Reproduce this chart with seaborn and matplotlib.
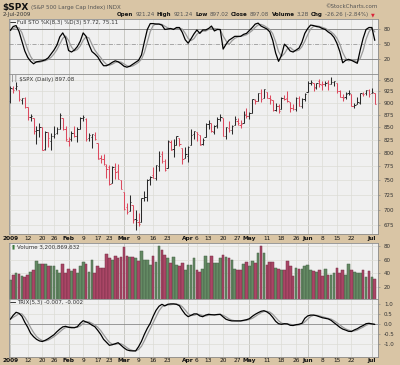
import numpy as np
import pandas as pd
import seaborn as sns
import matplotlib.pyplot as plt
from matplotlib.ticker import NullLocator, FixedLocator

# ---- data ----
holidays = ['2009-01-19', '2009-02-16', '2009-04-10', '2009-05-25']

opens = [
    902.99, 929.17, 931.17, 927.45, 905.73, 909.91, 890.40, 869.79, 867.28, 841.99,
    844.45, 849.64, 806.77, 839.74, 822.16, 832.50, 837.30, 845.73, 868.89, 845.69,
    823.09, 825.69, 837.77, 831.75, 846.09, 868.24, 866.87, 827.41, 829.91, 833.95,
    818.61, 791.06, 787.91, 775.87, 773.25, 744.69, 770.64, 765.76, 749.93,
    729.57, 704.44, 698.60, 708.27, 684.04, 680.76, 679.28, 719.59, 720.89, 751.97,
    758.84, 753.88, 776.01, 797.92, 784.58, 772.31, 820.60, 806.81, 814.06, 828.68,
    809.07, 790.88,
    793.59, 814.53, 835.13, 839.75, 834.12, 816.76, 829.29, 855.33, 856.88, 839.44,
    854.54, 865.18, 868.27, 831.25, 847.26, 844.62, 853.91, 862.82, 854.48, 856.85,
    876.59,
    872.74, 879.21, 906.10, 903.95, 919.58, 909.03, 922.99, 910.52, 905.40, 884.24,
    892.76, 886.07, 909.67, 908.62, 900.42, 888.68, 887.00, 909.95, 892.96, 907.02,
    923.26, 942.87, 942.51, 932.49, 945.67, 938.12, 940.35, 943.44, 939.04, 943.44,
    942.45, 925.60, 911.89, 910.86, 919.96, 918.13, 893.46, 896.31, 899.45, 918.84,
    919.86, 927.15,
    920.82, 921.24]
highs = [
    934.73, 936.63, 943.85, 927.45, 910.00, 911.93, 890.40, 877.02, 867.28, 851.59,
    858.13, 849.64, 841.72, 839.74, 838.61, 852.53, 850.45, 877.86, 868.89, 851.66,
    830.78, 842.60, 851.85, 850.55, 870.75, 875.01, 868.05, 838.22, 835.48, 839.43,
    818.61, 796.17, 797.58, 778.69, 777.85, 775.49, 780.12, 779.42, 751.27,
    729.57, 711.67, 724.12, 708.27, 699.09, 695.27, 719.60, 731.92, 752.63, 758.29,
    774.53, 778.12, 803.04, 803.24, 788.91, 823.37, 823.65, 826.78, 832.98, 828.68,
    809.07, 810.48,
    813.62, 845.61, 842.50, 839.75, 834.12, 828.42, 856.91, 864.31, 856.88, 852.93,
    870.35, 875.63, 868.27, 850.09, 861.78, 852.87, 871.80, 868.83, 864.48, 882.06,
    888.70,
    880.48, 907.85, 907.70, 920.28, 929.58, 930.17, 922.99, 915.57, 905.40, 898.36,
    896.97, 911.24, 916.39, 924.60, 900.42, 896.65, 911.76, 913.84, 909.45, 920.02,
    947.77, 949.38, 942.51, 942.47, 951.69, 946.33, 946.92, 949.77, 956.23, 946.30,
    942.45, 928.00, 918.44, 921.93, 927.09, 918.13, 898.69, 910.85, 921.42, 922.00,
    927.99, 930.01,
    931.92, 921.24]
lows = [
    899.35, 919.53, 927.28, 902.37, 896.81, 888.31, 864.32, 862.02, 836.93, 817.04,
    830.66, 804.47, 804.30, 811.29, 806.07, 827.69, 835.40, 845.73, 844.15, 821.67,
    812.87, 821.98, 829.18, 819.91, 845.42, 861.65, 822.99, 822.30, 808.06, 825.21,
    789.17, 780.43, 777.03, 754.25, 742.37, 744.69, 752.89, 751.75, 734.52,
    699.70, 692.30, 698.60, 677.93, 666.79, 672.88, 679.28, 713.85, 714.76, 742.46,
    753.37, 749.93, 765.64, 781.82, 766.20, 772.31, 805.48, 791.37, 814.06, 813.43,
    779.81, 790.88,
    783.32, 814.53, 826.70, 822.79, 814.53, 814.84, 829.29, 845.35, 840.25, 835.58,
    847.04, 860.87, 832.39, 826.83, 840.57, 835.45, 853.91, 854.65, 847.12, 856.85,
    868.51,
    866.10, 879.21, 897.34, 903.95, 901.36, 909.03, 908.68, 896.46, 882.80, 882.52,
    878.94, 886.07, 905.22, 901.37, 879.61, 883.75, 881.46, 891.87, 887.60, 903.56,
    923.26, 938.46, 923.85, 929.32, 934.13, 926.44, 936.15, 927.97, 939.04, 935.66,
    919.65, 911.60, 903.78, 907.94, 915.80, 893.04, 888.86, 896.31, 896.27, 913.03,
    916.18, 912.86,
    920.82, 897.02]
closes = [
    931.80, 927.45, 934.70, 906.65, 909.73, 890.35, 870.26, 871.79, 842.62, 843.74,
    850.12, 805.22, 840.24, 827.50, 831.95, 836.57, 845.71, 874.09, 845.14, 825.88,
    825.44, 838.51, 832.23, 845.85, 868.60, 869.89, 827.16, 833.74, 835.19, 826.84,
    789.17, 788.42, 778.94, 770.05, 743.33, 773.14, 764.90, 752.83, 735.09,
    700.82, 696.33, 712.87, 682.55, 683.38, 676.53, 719.60, 721.36, 750.74, 756.55,
    753.89, 778.12, 794.35, 784.04, 768.54, 822.92, 806.12, 813.88, 832.86, 815.94,
    787.53, 797.87,
    811.08, 834.38, 842.50, 835.48, 815.55, 825.16, 856.56, 858.73, 841.50, 852.06,
    865.30, 869.60, 832.39, 850.08, 843.55, 851.92, 866.23, 857.51, 855.16, 873.64,
    872.81,
    877.52, 907.24, 903.80, 919.53, 907.39, 929.23, 909.24, 908.35, 883.92, 893.07,
    882.88, 909.71, 908.13, 903.47, 888.33, 887.00, 910.33, 893.06, 906.83, 919.14,
    942.87, 944.74, 931.76, 942.46, 940.09, 939.14, 942.43, 939.15, 944.89, 946.21,
    923.72, 911.97, 910.71, 918.37, 921.23, 893.04, 895.10, 900.94, 920.26, 918.90,
    927.23, 919.32,
    923.33, 897.08]

# volume in hundreds of millions of shares
volume = [
    30, 37, 41, 39, 36, 34, 37, 42, 44, 58, 53, 53, 53, 51, 51, 50, 45, 41, 53, 41,
    46, 43, 46, 41, 50, 57, 54, 42, 59, 41, 50, 48, 48, 68, 62, 60, 66, 62, 64,
    78, 66, 64, 64, 62, 58, 72, 60, 60, 52, 66, 56, 80, 74, 67, 63, 55, 64, 52, 50,
    55, 45,
    52, 52, 62, 44, 42, 46, 65, 55, 65, 55, 55, 63, 67, 64, 63, 60, 46, 45, 44, 53,
    56,
    50, 58, 55, 70, 80, 70, 52, 57, 57, 48, 46, 45, 44, 58, 51, 36, 47, 46, 46, 50,
    52, 44, 43, 42, 44, 36, 46, 37, 38, 40, 47, 40, 44, 38, 53, 44, 42, 40, 40, 44,
    35, 43,
    35, 32]

sto_k = [
    78, 86, 88, 76, 56, 36, 23, 15, 10, 14, 15, 16, 18, 22, 30, 38, 48, 65, 73, 62,
    37, 34, 38, 45, 56, 73, 66, 49, 35, 30, 24, 14, 6, 6, 9, 13, 16, 14, 10,
    5, 3, 5, 9, 13, 17, 28, 55, 80, 92, 92, 91, 91, 89, 80, 81, 82, 80, 84, 84,
    74, 59,
    52, 61, 71, 79, 72, 79, 79, 82, 87, 77, 80, 80, 40, 50, 58, 62, 66, 66, 66, 70,
    72,
    78, 84, 91, 93, 87, 84, 81, 75, 58, 32, 15, 27, 50, 44, 36, 34, 38, 42, 54, 72,
    82, 89, 88, 86, 85, 82, 80, 75, 71, 64, 52, 35, 12, 17, 19, 17, 14, 11, 38, 62,
    80, 84,
    84, 57.72]
sto_d = [
    78, 82, 84, 83.3, 73.3, 56, 38.3, 24.7, 16, 13, 13, 15, 16.3, 18.7, 23.3, 30, 38.7, 50.3, 62, 66.7,
    57.3, 44.3, 36.3, 39, 46.3, 58, 65, 62.7, 50, 38, 29.7, 22.7, 14.7, 8.7, 7, 9.3, 12.7, 14.3, 13.3,
    9.7, 6, 4.3, 5.7, 9, 13, 19.3, 33.3, 54.3, 75.7, 88, 91.7, 91.3, 90.3, 86.7, 83.3, 81, 81, 82, 82.7,
    80.7, 72.3,
    61.7, 57.3, 61.3, 70.3, 74, 76.7, 76.7, 80, 82.7, 82, 81.3, 79, 66.7, 56.7, 49.3, 56.7, 62, 64.7, 66, 67.3,
    69.3,
    73.3, 78, 84.3, 89.3, 90.3, 88, 84, 80, 71.3, 55, 35, 24.7, 30.7, 40.3, 43.3, 38, 36, 38, 44.7, 56,
    69.3, 81, 86.3, 87.7, 86.3, 84.3, 82.3, 79, 75.3, 70, 62.3, 50.3, 33, 21.3, 16, 17.7, 16.7, 14, 21, 37,
    60, 75.3,
    82.7, 75.11]

trix = [
    0.25, 0.45, 0.6, 0.55, 0.4, 0.1, -0.15, -0.45, -0.62, -0.75, -0.83, -0.86, -0.8, -0.72, -0.62,
    -0.52, -0.37, -0.24, -0.13, -0.1,
    -0.15, -0.17, -0.17, -0.12, 0.05, 0.18, 0.12, 0.06, -0.04, -0.12, -0.3, -0.5, -0.75, -0.9,
    -1.05, -1.02, -0.97, -0.92, -1.05,
    -1.18, -1.28, -1.32, -1.33, -1.33, -1.12, -0.85, -0.5, -0.2, 0.05, 0.4, 0.7, 0.9, 1.0, 0.92,
    1.0, 1.02, 1.02, 1.0, 0.93, 0.7, 0.5,
    0.38, 0.45, 0.52, 0.52, 0.42, 0.38, 0.46, 0.5, 0.48, 0.47, 0.49, 0.5, 0.37, 0.25, 0.2, 0.17,
    0.17, 0.17, 0.17, 0.2, 0.23,
    0.28, 0.4, 0.5, 0.58, 0.65, 0.68, 0.62, 0.52, 0.35, 0.15, 0.03, 0.0, 0.03, 0.02, -0.05, -0.06,
    -0.02, 0.0, 0.05, 0.3,
    0.42, 0.46, 0.46, 0.43, 0.38, 0.33, 0.3, 0.27, 0.2, 0.08, -0.03, -0.15, -0.24, -0.29, -0.35,
    -0.36, -0.28, -0.22, -0.13, -0.06, 0.03, 0.05,
    0.02, -0.007]
trix_sig = [
    0.25, 0.35, 0.43, 0.53, 0.52, 0.35, 0.12, -0.17, -0.41, -0.61, -0.73, -0.81, -0.83, -0.79, -0.71,
    -0.62, -0.5, -0.38, -0.25, -0.16,
    -0.13, -0.14, -0.16, -0.15, -0.08, 0.04, 0.12, 0.12, 0.05, -0.03, -0.15, -0.31, -0.52, -0.72,
    -0.9, -0.99, -1.01, -0.97, -0.98,
    -1.05, -1.17, -1.26, -1.31, -1.33, -1.26, -1.1, -0.82, -0.52, -0.22, 0.08, 0.38, 0.67, 0.87, 0.94,
    0.97, 0.98, 1.01, 1.01, 0.98, 0.88, 0.71,
    0.53, 0.44, 0.45, 0.5, 0.49, 0.44, 0.42, 0.45, 0.48, 0.48, 0.48, 0.49, 0.45, 0.37, 0.27, 0.21,
    0.18, 0.17, 0.17, 0.18, 0.2,
    0.24, 0.3, 0.39, 0.49, 0.58, 0.64, 0.65, 0.61, 0.5, 0.34, 0.18, 0.06, 0.02, 0.02, 0.0, -0.03,
    -0.04, -0.03, 0.01, 0.12,
    0.26, 0.39, 0.45, 0.45, 0.42, 0.38, 0.34, 0.3, 0.26, 0.18, 0.08, -0.03, -0.14, -0.23, -0.29,
    -0.33, -0.33, -0.29, -0.21, -0.14, -0.05, 0.01,
    0.03, -0.002]

tick_dates = ['2009-01-02', '2009-01-12', '2009-01-20', '2009-01-26', '2009-02-02', '2009-02-09',
              '2009-02-17', '2009-02-23', '2009-03-02', '2009-03-09', '2009-03-16', '2009-03-23',
              '2009-04-01', '2009-04-06', '2009-04-13', '2009-04-20', '2009-04-27', '2009-05-01',
              '2009-05-11', '2009-05-18', '2009-05-26', '2009-06-01', '2009-06-08', '2009-06-15',
              '2009-06-22', '2009-07-01']
tick_text = ['2009', '12', '20', '26', 'Feb', '9', '17', '23', 'Mar', '9', '16', '23', 'Apr', '6',
             '13', '20', '27', 'May', '11', '18', '26', 'Jun', '8', '15', '22', 'Jul']
price_ticks = [675, 700, 725, 750, 775, 800, 825, 850, 875, 900, 925, 950]
sto_ticks = [20, 50, 80]
vol_ticks = [20, 40, 60, 80]
trix_ticks = [-1.0, -0.5, 0.0, 0.5, 1.0]

# ---- derived ----
days = pd.bdate_range('2009-01-02', '2009-07-02')
days = days[~days.isin(pd.to_datetime(holidays))]
idx = np.arange(len(days))
closes_a = np.array(closes)
up = np.r_[True, closes_a[1:] >= closes_a[:-1]]
tick_pos = [days.get_loc(pd.Timestamp(d)) for d in tick_dates]
tick_bold = [not t.isdigit() or t == '2009' for t in tick_text]

TAN = '#d9c5a5'
PANEL = '#f0f0f0'
EDGE = '#8c8c8c'
LIGHT_GRID = '#dcdcd6'
DARK_GRID = '#b9b9b2'
W, H = 400, 365

sns.set_theme(style='white')
plt.rcParams['font.family'] = ['DejaVu Sans']


def box(x0, y0, x1, y1):
    return [x0 / W, 1 - y1 / H, (x1 - x0) / W, (y1 - y0) / H]


def style_panel(ax, yticks, ylabels):
    ax.set_facecolor(PANEL)
    ax.set_xlim(-0.6, 126.2)
    for s in ax.spines.values():
        s.set_color(EDGE)
        s.set_linewidth(0.6)
    ax.yaxis.tick_right()
    ax.set_yticks(yticks)
    ax.set_yticklabels(ylabels)
    ax.yaxis.set_minor_locator(NullLocator())
    ax.tick_params(axis='y', which='both', right=True, left=False, length=1.5, width=0.5,
                   pad=2.5, labelsize=4, labelcolor='#333333', color=EDGE)
    ax.set_xticks(tick_pos)
    ax.set_xticklabels([])
    ax.tick_params(axis='x', length=0)
    for p, b in zip(tick_pos, tick_bold):
        ax.axvline(p, color=DARK_GRID if b else LIGHT_GRID, lw=0.5, zorder=0)
    ax.set_xlabel('')
    ax.set_ylabel('')


def date_labels(ax, pad):
    ax.set_xticklabels(tick_text)
    ax.tick_params(axis='x', labelsize=4.2, pad=pad, labelcolor='#111111')
    for lab, b in zip(ax.get_xticklabels(), tick_bold):
        if b:
            lab.set_fontweight('bold')
    ax.xaxis.set_minor_locator(FixedLocator(idx))
    ax.tick_params(axis='x', which='minor', length=1.2, width=0.4, direction='in', color='#777777')


fig = plt.figure(figsize=(4, 3.65), dpi=100, facecolor=TAN)
ax_sto = fig.add_axes(box(8.5, 18.7, 378.3, 74.3))
ax_px = fig.add_axes(box(8.5, 74.3, 378.3, 233.5))
ax_vol = fig.add_axes(box(8.5, 243.3, 378.3, 299))
ax_trix = fig.add_axes(box(8.5, 299, 378.3, 356.7))

# stochastics
sns.lineplot(x=idx, y=sto_d, ax=ax_sto, color='#9a9a9a', lw=0.9)
sns.lineplot(x=idx, y=sto_k, ax=ax_sto, color='black', lw=0.9)
style_panel(ax_sto, sto_ticks, [str(t) for t in sto_ticks])
ax_sto.set_ylim(-11.5, 102)
ax_sto.axhline(80, color='#7a7a7a', lw=0.6, zorder=1)
ax_sto.axhline(20, color='#7a7a7a', lw=0.6, zorder=1)
ax_sto.axhline(50, color='#8a8a8a', lw=0.5, ls=(0, (6, 2, 1, 2)), zorder=1)
ax_sto.text(0.004, 0.975, '\u2014', transform=ax_sto.transAxes, fontsize=4.5, va='top',
            fontweight='bold', color='black')
ax_sto.text(0.024, 0.975, 'Full STO %K(8,3) %D(3) 57.72, 75.11', transform=ax_sto.transAxes,
            fontsize=4, va='top', color='#333333')

# price bars (log scale)
ax_px.set_yscale('log')
style_panel(ax_px, price_ticks, [str(t) for t in price_ticks])
ax_px.set_ylim(661.9, 961.7)
for t in price_ticks:
    ax_px.axhline(t, color=LIGHT_GRID, lw=0.5, zorder=0)
bar_cols = np.where(up, '#2a2a2a', '#dc4a5e')
ax_px.vlines(idx, lows, highs, colors=bar_cols, lw=0.75)
ax_px.hlines(opens, idx - 0.45, idx, colors=bar_cols, lw=0.7)
ax_px.hlines(closes, idx, idx + 0.45, colors=bar_cols, lw=0.7)
date_labels(ax_px, 1.5)
ax_px.text(0.008, 0.995, '\u2502\u2502 \\$SPX (Daily) 897.08', transform=ax_px.transAxes,
           fontsize=4, va='top', color='#333333')

# volume
direction = np.where(up, 'up', 'down')
sns.barplot(x=idx, y=volume, hue=direction, palette={'up': '#5e905e', 'down': '#bb3560'},
            dodge=False, native_scale=True, width=0.92, errorbar=None, legend=False,
            ax=ax_vol, linewidth=0)
for p in ax_vol.patches:
    r, g, b, a = p.get_facecolor()
    p.set_edgecolor((r * 0.7, g * 0.7, b * 0.7, 1))
    p.set_linewidth(0.35)
style_panel(ax_vol, vol_ticks, [str(t) for t in vol_ticks])
ax_vol.set_ylim(2, 84)
for t in vol_ticks:
    ax_vol.axhline(t, color=LIGHT_GRID, lw=0.5, zorder=0)
ax_vol.set_axisbelow(True)
ax_vol.text(0.008, 0.975, '\u25ae', transform=ax_vol.transAxes, fontsize=4, va='top',
            color='#3d7a3d')
ax_vol.text(0.024, 0.975, 'Volume 3,200,869,632', transform=ax_vol.transAxes, fontsize=4,
            va='top', color='#333333')

# TRIX
sns.lineplot(x=idx, y=trix_sig, ax=ax_trix, color='#9a9a9a', lw=0.9)
sns.lineplot(x=idx, y=trix, ax=ax_trix, color='black', lw=0.9)
style_panel(ax_trix, trix_ticks, ['%.1f' % t for t in trix_ticks])
ax_trix.set_ylim(-1.62, 1.265)
for t in trix_ticks:
    ax_trix.axhline(t, color='#8a8a8a' if t == 0 else LIGHT_GRID, lw=0.6 if t == 0 else 0.5,
                    zorder=0.5)
date_labels(ax_trix, 0.8)
ax_trix.text(0.004, 0.975, '\u2014', transform=ax_trix.transAxes, fontsize=4.5, va='top',
             fontweight='bold', color='black')
ax_trix.text(0.024, 0.975, 'TRIX(5,3) -0.007, -0.002', transform=ax_trix.transAxes,
             fontsize=4, va='top', color='#333333')

# header
fig.text(2.5 / W, 1 - 7.5 / H, '\\$SPX', fontsize=6.5, fontweight='bold', va='center',
         color='#111111')
fig.text(31 / W, 1 - 7 / H, '(S&P 500 Large Cap Index) INDX', fontsize=4, va='center',
         color='#555555')
fig.text(378 / W, 1 - 6 / H, '\u00a9StockCharts.com', fontsize=4, va='center', ha='right',
         color='#555555')
fig.text(2.5 / W, 1 - 14.5 / H, '2-Jul-2009', fontsize=4, va='center', color='#333333')

pieces = [('Open', True), ('921.24', False), ('High', True), ('921.24', False),
          ('Low', True), ('897.02', False), ('Close', True), ('897.08', False),
          ('Volume', True), ('3.2B', False), ('Chg', True), ('-26.26 (-2.84%)', False)]
renderer = fig.canvas.get_renderer()
x = 117.0
for txt, bold in pieces:
    t = fig.text(x / W, 1 - 14.5 / H, txt, fontsize=4, va='center',
                 fontweight='bold' if bold else 'normal',
                 color='#111111' if bold else '#555555')
    bb = t.get_window_extent(renderer)
    x += bb.width + 2.2
fig.text(x / W, 1 - 14.5 / H, '\u25bc', fontsize=3.5, va='center', color='#d8243a')

fig.savefig('out.png', dpi=100, facecolor=TAN)
